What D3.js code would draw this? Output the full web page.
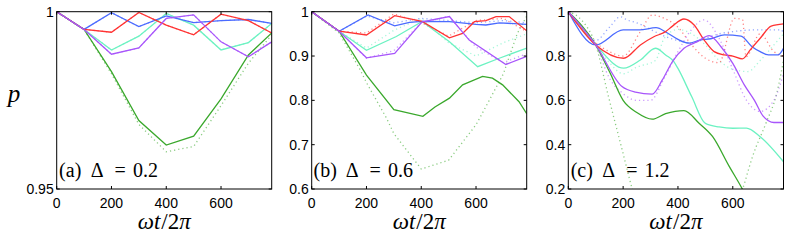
<!DOCTYPE html>
<html>
<head>
<meta charset="utf-8">
<script src="https://cdn.jsdelivr.net/npm/d3@7"></script>
<style>
  body { margin: 0; background: #fff; }
  svg { display: block; }
</style>
</head>
<body>
<div id="chart"></div>
<script>
// tick values / labels
const tTicks = [0, 200, 400, 600];
const tMax = 785;
const panelTags = ["(a)", "(b)", "(c)"];
const deltaValues = ["0.2", "0.6", "1.2"];
const yDomains = [[0.95, 1], [0.6, 1], [0.2, 1]];
const yTicks = [[0.95, 1], [0.6, 0.7, 0.8, 0.9, 1], [0.2, 0.4, 0.6, 0.8, 1]];
const yTickLabels = [["0.95", "1"], ["0.6", "0.7", "0.8", "0.9", "1"], ["0.2", "0.4", "0.6", "0.8", "1"]];

// panel (a), Δ = 0.2  : [t, p]
const aGreen  = [[0,1],[100,0.995],[200,0.9831],[300,0.9693],[400,0.9624],[500,0.9649],[600,0.9754],[700,0.9878],[785,0.994]];
const aCyan   = [[0,1],[100,0.995],[200,0.9892],[300,0.9931],[400,0.9995],[500,0.9962],[600,0.9892],[700,0.9913],[785,0.9967]];
const aPurple = [[0,1],[100,0.995],[200,0.988],[300,0.9898],[400,0.9981],[500,0.9991],[600,0.9915],[700,0.9873],[785,0.9915]];
const aRed    = [[0,1],[100,0.995],[200,0.9942],[300,0.9998],[400,0.9962],[500,0.9935],[600,0.9993],[700,0.9975],[785,0.994]];
const aBlue   = [[0,1],[100,0.995],[200,0.9997],[300,0.9958],[400,0.9988],[500,0.9969],[600,0.9975],[700,0.9978],[785,0.9967]];
const aGreenDot = [[0,1],[100,0.995],[200,0.9825],[300,0.9682],[400,0.9605],[500,0.962],[600,0.9735],[700,0.9855],[785,0.9935]];

// panel (b), Δ = 0.6
const bGreen  = [[0,1],[100,0.956],[200,0.857],[300,0.779],[406,0.764],[450,0.785],[503,0.805],[551,0.835],[624,0.854],[660,0.85],[697,0.835],[757,0.797],[785,0.77]];
const bCyan   = [[0,1],[100,0.956],[200,0.913],[309,0.944],[403,0.978],[503,0.932],[606,0.876],[685,0.895],[785,0.918]];
const bPurple = [[0,1],[100,0.956],[200,0.896],[303,0.906],[403,0.977],[503,0.989],[575,0.936],[709,0.881],[785,0.899]];
const bRed    = [[0,1],[100,0.956],[200,0.9475],[303,0.991],[403,0.978],[503,0.941],[551,0.951],[594,0.9775],[636,0.98],[673,0.989],[721,0.989],[785,0.957]];
const bBlue   = [[0,1],[100,0.956],[206,0.9926],[303,0.968],[357,0.976],[403,0.978],[503,0.9775],[600,0.9716],[636,0.97],[685,0.975],[785,0.9716]];
const bGreenDot  = [[0,1],[100,0.952],[176,0.87],[200,0.84],[273,0.76],[300,0.725],[400,0.645],[500,0.665],[600,0.745],[624,0.772],[700,0.86],[750,0.95],[785,0.99]];
const bCyanDot   = [[0,1],[100,0.956],[200,0.918],[300,0.958],[400,0.985],[500,0.93],[600,0.9],[700,0.93],[785,0.95]];
const bPurpleDot = [[0,1],[100,0.956],[200,0.895],[300,0.912],[400,0.975],[500,0.99],[600,0.92],[700,0.885],[785,0.905]];
const bRedDot    = [[0,1],[100,0.956],[200,0.952],[300,0.995],[400,0.975],[500,0.945],[600,0.98],[700,0.985],[785,0.955]];
const bBlueDot   = [[0,1],[100,0.956],[200,0.99],[300,0.975],[400,0.985],[500,0.98],[600,0.975],[700,0.98],[785,0.975]];

// panel (c), Δ = 1.2
const cGreen  = [[0,1],[100,0.85],[150,0.73],[200,0.6],[250,0.545],[306,0.515],[355,0.54],[422,0.554],[477,0.497],[526,0.437],[587,0.302],[636,0.197],[700,0.03],[785,-0.15]];
const cCyan   = [[0,1],[100,0.85],[202,0.745],[263,0.782],[318,0.835],[355,0.805],[385,0.775],[400,0.744],[450,0.617],[500,0.496],[550,0.48],[600,0.474],[650,0.475],[700,0.436],[785,0.323]];
const cPurple = [[0,1],[100,0.85],[196,0.662],[245,0.637],[306,0.628],[343,0.692],[380,0.775],[422,0.835],[471,0.865],[514,0.892],[557,0.842],[600,0.767],[642,0.67],[679,0.6],[710,0.53],[750,0.5],[785,0.5]];
const cRed    = [[0,1],[100,0.85],[202,0.79],[263,0.85],[312,0.887],[355,0.91],[380,0.935],[422,0.967],[459,0.94],[495,0.873],[532,0.82],[569,0.805],[600,0.8],[635,0.787],[665,0.83],[700,0.88],[740,0.935],[785,0.945]];
const cBlue   = [[0,1],[100,0.85],[200,0.918],[260,0.918],[320,0.928],[360,0.905],[400,0.875],[440,0.858],[480,0.872],[520,0.878],[570,0.895],[630,0.89],[670,0.842],[700,0.82],[730,0.805],[765,0.805],[785,0.835]];
const cGreenDot  = [[0,1],[50,0.96],[100,0.85],[146,0.62],[202,0.35],[233,0.2],[300,-0.05],[400,-0.2],[500,-0.15],[600,0.08],[636,0.2],[673,0.35],[722,0.5],[760,0.63],[785,0.78]];
const cCyanDot   = [[0,1],[50,0.93],[100,0.85],[150,0.77],[200,0.72],[250,0.75],[318,0.78],[350,0.88],[400,0.92],[450,0.9],[500,0.85],[550,0.78],[600,0.74],[655,0.73],[700,0.78],[750,0.85],[785,0.9]];
const cPurpleDot = [[0,1],[50,0.93],[100,0.85],[150,0.7],[200,0.63],[250,0.6],[300,0.6],[350,0.7],[400,0.82],[450,0.92],[495,0.963],[550,0.88],[600,0.74],[650,0.6],[700,0.55],[750,0.6],[785,0.72]];
const cRedDot    = [[0,1],[50,0.93],[100,0.86],[150,0.82],[200,0.8],[263,0.91],[306,0.985],[350,0.97],[400,0.93],[450,0.85],[500,0.79],[550,0.77],[606,0.97],[636,0.963],[648,0.797],[700,0.9],[750,0.82],[785,0.8]];
const cBlueDot   = [[0,1],[50,0.93],[100,0.87],[150,0.93],[190,0.977],[214,0.963],[250,0.95],[300,0.92],[350,0.89],[400,0.87],[450,0.86],[500,0.88],[550,0.9],[600,0.91],[679,0.918],[777,0.918],[785,0.9]];

const colors = { green: "#3aa82c", cyan: "#6cf2c2", purple: "#a855fb", red: "#ff3333", blue: "#4b6bff" };

const panels = [
  { solid: { green: aGreen, cyan: aCyan, blue: aBlue, red: aRed, purple: aPurple },
    dotted: { green: aGreenDot, cyan: aCyan, blue: aBlue, red: aRed, purple: aPurple } },
  { solid: { green: bGreen, cyan: bCyan, blue: bBlue, red: bRed, purple: bPurple },
    dotted: { green: bGreenDot, cyan: bCyanDot, blue: bBlueDot, red: bRedDot, purple: bPurpleDot } },
  { solid: { green: cGreen, cyan: cCyan, blue: cBlue, red: cRed, purple: cPurple },
    dotted: { green: cGreenDot, cyan: cCyanDot, blue: cBlueDot, red: cRedDot, purple: cPurpleDot } }
];

const order = ["green", "cyan", "blue", "red", "purple"];
const panelX = [[56.7, 271.7], [311.7, 526.7], [568.3, 783.5]];
const yTop = 11.7, yBottom = 189;

const svg = d3.select("#chart").append("svg")
  .attr("width", 789)
  .attr("height", 240);

// y label (upright italic p)
svg.append("text")
  .attr("x", 14)
  .attr("y", 102)
  .attr("text-anchor", "middle")
  .style("font-family", "'Liberation Serif', serif")
  .style("font-style", "italic")
  .style("font-size", "25px")
  .text("p");

panels.forEach((panel, i) => {
  const [x0, x1] = panelX[i];
  const x = d3.scaleLinear().domain([0, tMax]).range([x0, x1]);
  const y = d3.scaleLinear().domain(yDomains[i]).range([yBottom, yTop]);
  const g = svg.append("g");

  g.append("clipPath").attr("id", "clip" + i)
    .append("rect")
    .attr("x", x0).attr("y", yTop)
    .attr("width", x1 - x0).attr("height", yBottom - yTop);

  const plot = g.append("g").attr("clip-path", `url(#clip${i})`);
  const line = d3.line()
    .x(d => x(d[0]))
    .y(d => y(d[1]))
    .curve(i === 2 ? d3.curveMonotoneX : d3.curveLinear);

  // dotted first, solid on top
  order.forEach(k => {
    plot.append("path")
      .attr("d", line(panel.dotted[k]))
      .attr("fill", "none")
      .attr("stroke", colors[k])
      .attr("stroke-width", 1.3)
      .attr("stroke-dasharray", "1.2,3")
      .attr("opacity", 0.6);
  });
  order.forEach(k => {
    plot.append("path")
      .attr("d", line(panel.solid[k]))
      .attr("fill", "none")
      .attr("stroke", colors[k])
      .attr("stroke-width", 1.3);
  });

  // box
  g.append("rect")
    .attr("x", x0).attr("y", yTop)
    .attr("width", x1 - x0).attr("height", yBottom - yTop)
    .attr("fill", "none")
    .attr("stroke", "#000")
    .attr("stroke-width", 1);

  // inward ticks on all sides
  const tickLen = 3;
  tTicks.forEach(t => {
    g.append("line").attr("x1", x(t)).attr("x2", x(t)).attr("y1", yBottom).attr("y2", yBottom - tickLen).attr("stroke", "#000");
    g.append("line").attr("x1", x(t)).attr("x2", x(t)).attr("y1", yTop).attr("y2", yTop + tickLen).attr("stroke", "#000");
  });
  yTicks[i].forEach(v => {
    g.append("line").attr("x1", x0).attr("x2", x0 + tickLen).attr("y1", y(v)).attr("y2", y(v)).attr("stroke", "#000");
    g.append("line").attr("x1", x1).attr("x2", x1 - tickLen).attr("y1", y(v)).attr("y2", y(v)).attr("stroke", "#000");
  });

  // tick labels
  g.selectAll(".xt")
    .data(tTicks)
    .enter()
    .append("text")
    .attr("x", d => x(d))
    .attr("y", 208)
    .attr("text-anchor", "middle")
    .style("font-family", "'Liberation Sans', Arial, sans-serif")
    .style("font-size", "14px")
    .text(d => d);

  g.selectAll(".yt")
    .data(yTicks[i])
    .enter()
    .append("text")
    .attr("x", x0 - 3)
    .attr("y", d => y(d))
    .attr("dy", "0.36em")
    .attr("text-anchor", "end")
    .style("font-family", "'Liberation Sans', Arial, sans-serif")
    .style("font-size", "14px")
    .text((d, j) => yTickLabels[i][j]);

  // x label  ωt/2π
  const xl = g.append("text")
    .attr("x", (x0 + x1) / 2)
    .attr("y", 229)
    .attr("text-anchor", "middle")
    .style("font-family", "'Liberation Serif', serif")
    .style("font-size", "23px");
  xl.append("tspan").style("font-style", "italic").text("ωt");
  xl.append("tspan").attr("dx", 1).text("/2");
  xl.append("tspan").style("font-style", "italic").text("π");

  // panel label
  const labelParts = [
    { s: panelTags[i], dx: 13.5 },
    { s: "Δ", dx: 40.5 },
    { s: "=", dx: 63.5 },
    { s: deltaValues[i], dx: 88.8 }
  ];
  labelParts.forEach(p => {
    g.append("text")
      .attr("x", x0 + p.dx)
      .attr("y", 177)
      .attr("text-anchor", "middle")
      .style("font-family", "'Liberation Serif', serif")
      .style("font-size", "20px")
      .text(p.s);
  });
});
</script>
</body>
</html>
